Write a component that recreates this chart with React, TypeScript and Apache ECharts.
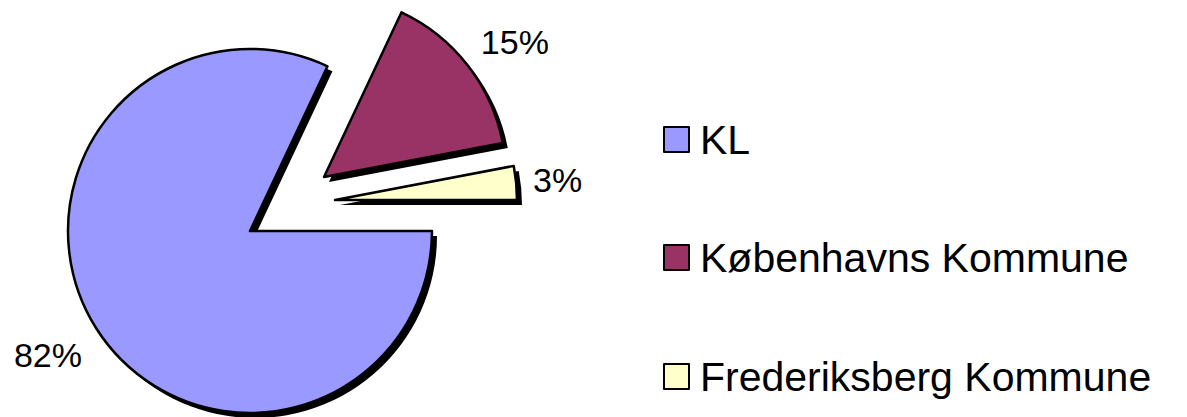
import React, { useEffect, useRef } from "react";
import * as echarts from "echarts";

const names = ["KL", "Københavns Kommune", "Frederiksberg Kommune"];
const values = [82, 15, 3];
const colors = ["#9999FF", "#993366", "#FFFFCC"];

// layout (pixels)
const RADIUS = 182;
const centers = [
  [250, 231],
  [324, 177],
  [335, 200],
];
const labelLen = [49, 38, 31];
const labelDx = [32, -22, -19];
const legendTops = [114, 232, 351];
const SHADOW = 5;
const FONT = "Liberation Sans, Arial, Helvetica, sans-serif";

function pieSeries(idx: number, shadow: boolean) {
  const [cx, cy] = centers[idx];
  return {
    type: "pie",
    radius: RADIUS,
    center: shadow ? [cx + SHADOW, cy + SHADOW] : [cx, cy],
    startAngle: 0,
    clockwise: true,
    silent: true,
    avoidLabelOverlap: false,
    z: shadow ? 1 : 2,
    emphasis: { disabled: true },
    label: {
      show: !shadow,
      position: "outside",
      formatter: "{d}%",
      fontFamily: FONT,
      fontSize: 34,
      color: "#000",
      overflow: "none",
    },
    labelLine: { show: false, length: labelLen[idx], length2: 0 },
    labelLayout: { dx: labelDx[idx] },
    data: names.map((n, i) => ({
      name: n,
      value: values[i],
      itemStyle:
        i === idx
          ? {
              color: shadow ? "#000" : colors[i],
              borderColor: "#000",
              borderWidth: shadow ? 0 : 2.5,
            }
          : { color: "rgba(0,0,0,0)", borderWidth: 0 },
      label: { show: !shadow && i === idx },
    })),
  };
}

export default function App() {
  const ref = useRef<HTMLDivElement>(null);
  useEffect(() => {
    document.body.style.margin = "0";
    const chart = echarts.init(ref.current!, undefined, { renderer: "svg" });
    const series: any[] = [];
    names.forEach((_, i) => series.push(pieSeries(i, true)));
    names.forEach((_, i) => series.push(pieSeries(i, false)));
    chart.setOption({
      animation: false,
      backgroundColor: "#fff",
      legend: names.map((n, i) => ({
        orient: "vertical",
        left: 658,
        top: legendTops[i],
        selectedMode: false,
        icon: "rect",
        itemWidth: 25,
        itemHeight: 25,
        textStyle: {
          fontFamily: FONT,
          fontSize: 41,
          color: "#000",
          padding: [0, 0, 0, 6],
        },
        data: [
          {
            name: n,
            itemStyle: { color: colors[i], borderColor: "#000", borderWidth: 2 },
          },
        ],
      })),
      series,
    });
    return () => chart.dispose();
  }, []);
  return <div ref={ref} style={{ width: 1187, height: 417 }} />;
}
